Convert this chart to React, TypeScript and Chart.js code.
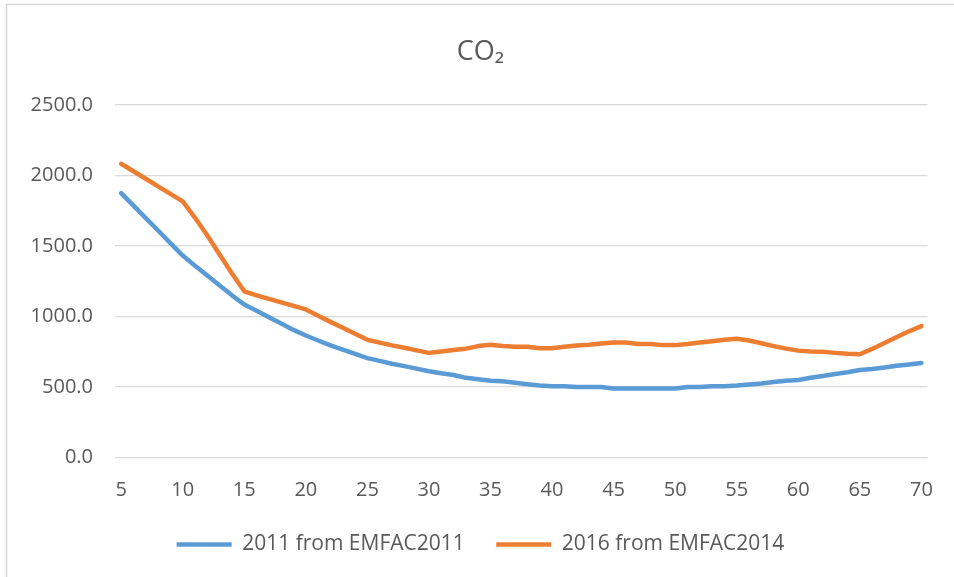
import React, { useEffect, useRef } from "react";
import { Chart, registerables } from "chart.js";

Chart.register(...registerables);

const categories = [
  "5", "6", "7", "8", "9", "10", "11", "12", "13", "14", "15", "16", "17", "18", "19", "20",
  "21", "22", "23", "24", "25", "26", "27", "28", "29", "30", "31", "32", "33", "34", "35",
  "36", "37", "38", "39", "40", "41", "42", "43", "44", "45", "46", "47", "48", "49", "50",
  "51", "52", "53", "54", "55", "56", "57", "58", "59", "60", "61", "62", "63", "64", "65",
  "66", "67", "68", "69", "70",
];

const series2011 = [
  1875, 1786, 1698, 1610, 1520, 1432, 1360, 1290, 1220, 1150, 1085, 1040, 995, 950, 905, 865,
  830, 795, 765, 735, 705, 685, 665, 648, 630, 612, 597, 585, 565, 555, 545,
  540, 530, 520, 510, 505, 505, 500, 500, 500, 490, 490, 490, 490, 490, 490,
  500, 500, 505, 505, 510, 518, 525, 535, 545, 550, 565, 578, 592, 605, 620,
  628, 638, 650, 660, 670,
];

const series2016 = [
  2083, 2030, 1977, 1923, 1870, 1816, 1700, 1575, 1440, 1305, 1179, 1150, 1125, 1100, 1075, 1050,
  1005, 962, 920, 877, 835, 815, 795, 778, 760, 742, 752, 762, 772, 790, 800,
  790, 785, 785, 775, 775, 785, 795, 800, 808, 815, 815, 805, 805, 797, 797,
  805, 815, 825, 835, 842, 830, 810, 790, 772, 758, 752, 750, 742, 735, 732,
  770, 812, 855, 895, 932,
];

const seriesNames = ["2011 from EMFAC2011", "2016 from EMFAC2014"];
const titleText = "CO\u2082";
const yTicks = [0, 500, 1000, 1500, 2000, 2500];

const FONT = "'Open Sans', 'Noto Sans', sans-serif";
const TEXT = "#595959";

const framePlugin = {
  id: "frame",
  beforeDraw(chart: any) {
    const { ctx, width, height } = chart;
    ctx.save();
    ctx.fillStyle = "#ffffff";
    ctx.fillRect(0, 0, width, height);
    ctx.strokeStyle = "#d6d6d6";
    ctx.lineWidth = 1.5;
    ctx.beginPath();
    ctx.moveTo(6.5, height);
    ctx.lineTo(6.5, 4.5);
    ctx.lineTo(width, 4.5);
    ctx.stroke();
    ctx.restore();
  },
};

export default function App() {
  const ref = useRef<HTMLCanvasElement | null>(null);

  useEffect(() => {
    document.body.style.margin = "0";
    document.body.style.overflow = "hidden";
    const canvas = ref.current;
    if (!canvas) return;
    const chart = new Chart(canvas, {
      type: "line",
      data: {
        labels: categories,
        datasets: [
          {
            label: seriesNames[0],
            data: series2011,
            borderColor: "#5B9BD5",
            backgroundColor: "#5B9BD5",
            borderWidth: 4.5,
            borderCapStyle: "round",
            borderJoinStyle: "round",
            pointRadius: 0,
            pointStyle: "line",
            tension: 0,
          },
          {
            label: seriesNames[1],
            data: series2016,
            borderColor: "#ED7D31",
            backgroundColor: "#ED7D31",
            borderWidth: 4.5,
            borderCapStyle: "round",
            borderJoinStyle: "round",
            pointRadius: 0,
            pointStyle: "line",
            tension: 0,
          },
        ],
      },
      options: {
        animation: false,
        responsive: false,
        maintainAspectRatio: false,
        layout: { padding: { left: 30, right: 23, top: 0, bottom: 12 } },
        plugins: {
          title: {
            display: true,
            text: titleText,
            color: TEXT,
            font: { family: FONT, size: 27, weight: "normal", lineHeight: 1.2 },
            padding: { top: 36, bottom: 36.6 },
          },
          legend: {
            display: true,
            position: "bottom",
            labels: {
              color: TEXT,
              font: { family: FONT, size: 21 },
              usePointStyle: true,
              pointStyle: "line",
              pointStyleWidth: 55,
              boxHeight: 21,
              padding: 31.5,
            },
          },
          tooltip: { enabled: false },
        },
        scales: {
          x: {
            type: "category",
            offset: true,
            grid: { display: false, drawTicks: false },
            border: { display: false },
            afterFit(scale: any) {
              scale.height = 45;
            },
            ticks: {
              autoSkip: false,
              maxRotation: 0,
              minRotation: 0,
              padding: 21,
              color: TEXT,
              font: { family: FONT, size: 20, lineHeight: 1.2 },
              callback(this: any, value: any) {
                const lab = categories[value as number];
                return Number(lab) % 5 === 0 ? lab : "";
              },
            },
          },
          y: {
            min: yTicks[0],
            max: yTicks[yTicks.length - 1],
            afterFit(scale: any) {
              scale.width = 115 - 30;
            },
            grid: { color: "#d9d9d9", lineWidth: 1.3, drawTicks: false },
            border: { display: false },
            ticks: {
              stepSize: 500,
              padding: 22,
              color: TEXT,
              font: { family: FONT, size: 20 },
              callback: (v: any) => Number(v).toFixed(1),
            },
          },
        },
      },
      plugins: [framePlugin],
    } as any);
    return () => chart.destroy();
  }, []);

  return (
    <div style={{ width: 954, height: 577, position: "relative", overflow: "hidden" }}>
      <canvas ref={ref} width={954} height={577} style={{ display: "block", width: 954, height: 577 }} />
    </div>
  );
}
